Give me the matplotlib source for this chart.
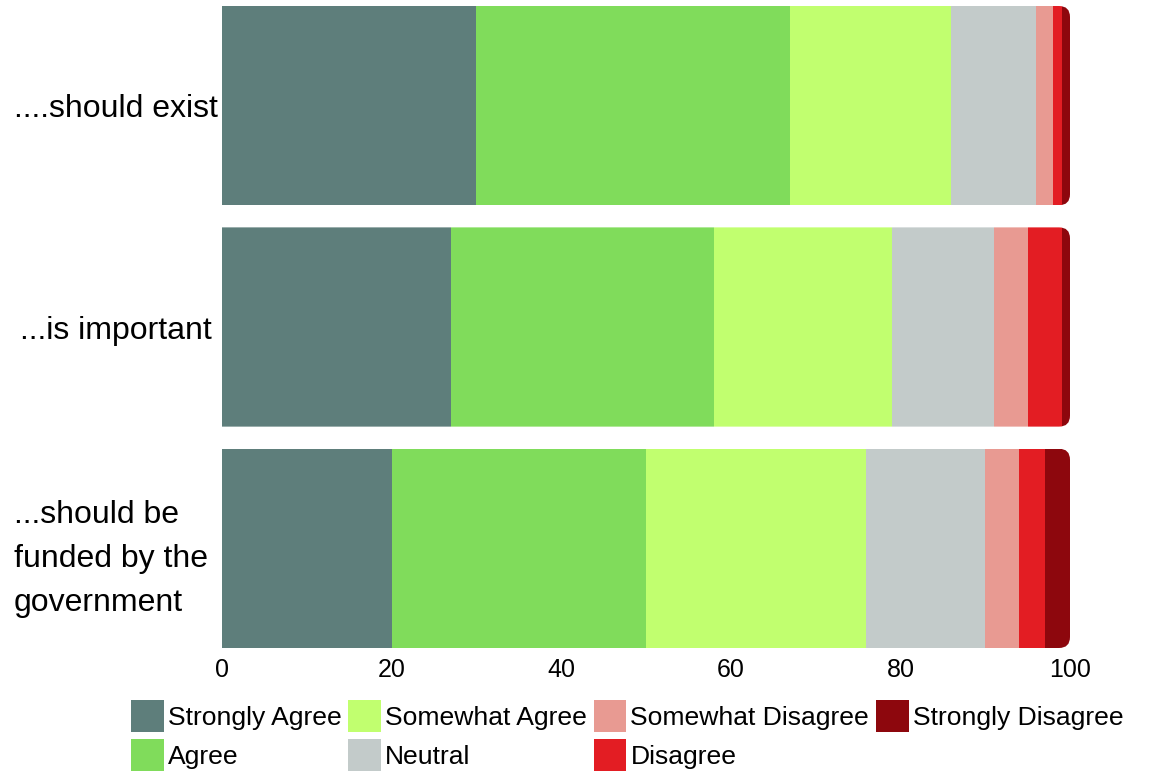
import numpy as np
import matplotlib
matplotlib.use("Agg")
import matplotlib.pyplot as plt
from matplotlib.patches import FancyBboxPatch
from matplotlib.transforms import ScaledTranslation

plt.rcParams['font.family'] = ['Liberation Sans', 'DejaVu Sans']

# Survey statements (top to bottom)
statements = ["....should exist", "...is important", "...should be\nfunded by the\ngovernment"]

# Response categories and colours
responses = ["Strongly Agree", "Agree", "Somewhat Agree", "Neutral",
             "Somewhat Disagree", "Disagree", "Strongly Disagree"]
colors = ["#5e7e7b", "#80dc5b", "#c1ff6f", "#c3cbca", "#e89a92", "#e31d23", "#8d070d"]

# Percentage of respondents per response, one list per statement
strongly_agree    = [30, 27, 20]
agree             = [37, 31, 30]
somewhat_agree    = [19, 21, 26]
neutral           = [10, 12, 14]
somewhat_disagree = [2, 4, 4]
disagree          = [1, 4, 3]
strongly_disagree = [1, 1, 3]

series = [strongly_agree, agree, somewhat_agree, neutral,
          somewhat_disagree, disagree, strongly_disagree]

W, H = 1149, 773
fig = plt.figure(figsize=(W / 100, H / 100), dpi=100)
ax = fig.add_axes([222 / W, 1 - 648 / H, 848 / W, 642 / H])

ypos = np.arange(len(statements))
bar_h = 0.9
ax.set_xlim(0, 100)
ax.set_ylim(2.45, -0.45)

# rounded right-hand ends: clip each stacked row to a rounded box
x_per_px = 100 / 848
y_per_px = 2.9 / 642
radius_px = 11
totals = np.sum(np.array(series), axis=0)
clips = []
for i, y in enumerate(ypos):
    clip = FancyBboxPatch((-10, y - bar_h / 2), totals[i] + 10, bar_h,
                          boxstyle=f"round,pad=0,rounding_size={radius_px * x_per_px}",
                          mutation_aspect=y_per_px / x_per_px,
                          transform=ax.transData)
    clips.append(clip)

left = np.zeros(len(statements))
for name, vals, col in zip(responses, series, colors):
    bars = ax.barh(ypos, vals, left=left, height=bar_h, color=col,
                   label=name, linewidth=0)
    for i, b in enumerate(bars):
        b.set_clip_path(clips[i])
    left = left + np.array(vals)

for s in ax.spines.values():
    s.set_visible(False)

ax.set_xticks([0, 20, 40, 60, 80, 100])
ax.tick_params(axis='x', length=0, labelsize=18, pad=7)
ax.set_yticks(ypos, labels=statements)
ax.tick_params(axis='y', length=0, labelsize=23, pad=76.5)
for t in ax.get_yticklabels():
    t.set_horizontalalignment('center')
    t.set_multialignment('left')
    t.set_linespacing(1.6)

# the wrapped label sits slightly further left
wrapped = ax.get_yticklabels()[2]
wrapped.set_transform(wrapped.get_transform() +
                      ScaledTranslation(-0.05, 0, fig.dpi_scale_trans))

fig.legend(loc='upper left', bbox_to_anchor=(131 / W, 1 - 700 / H),
           ncol=4, frameon=False, fontsize=19.05,
           handlelength=1.23, handleheight=1.5, handletextpad=0.15,
           columnspacing=0.27, labelspacing=0.25,
           borderpad=0, borderaxespad=0)

fig.savefig("out.png", dpi=100)
